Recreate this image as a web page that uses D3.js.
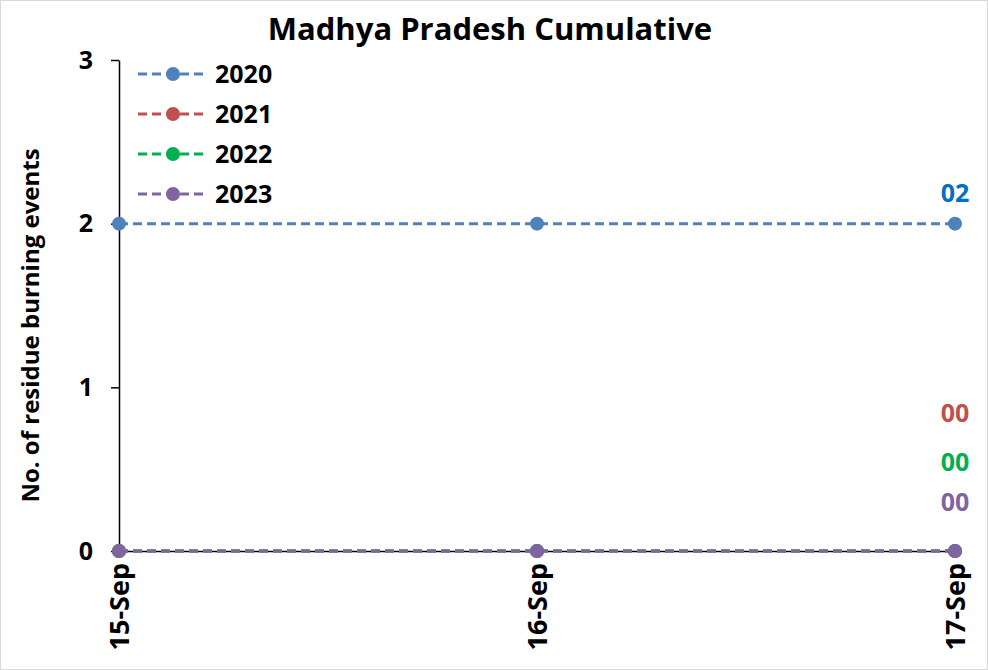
<!DOCTYPE html>
<html>
<head>
<meta charset="utf-8">
<script src="https://cdn.jsdelivr.net/npm/d3@7"></script>
<style>
  body { margin: 0; background: #fff; }
  svg { display: block; font-family: "Open Sans", sans-serif; font-weight: bold; }
</style>
</head>
<body>
<div id="chart"></div>
<script>
// Data
const dates = ["15-Sep", "16-Sep", "17-Sep"];
const years = ["2020", "2021", "2022", "2023"];
const values2020 = [2, 2, 2];
const values2021 = [0, 0, 0];
const values2022 = [0, 0, 0];
const values2023 = [0, 0, 0];
const endLabels = ["02", "00", "00", "00"];
const yTicks = [0, 1, 2, 3];

const lineColors = ["#4F81BD", "#C0504D", "#00B050", "#8064A2"];
const labelColors = ["#0070C0", "#C0504D", "#00B050", "#8064A2"];
const labelY = [193, 413, 462, 502];

const series = [values2020, values2021, values2022, values2023].map((v, i) => ({
    year: years[i], values: v, color: lineColors[i]
}));

const width = 988, height = 670;
const margin = {top: 60, right: 33, bottom: 119, left: 119};
const font = "'Open Sans', sans-serif";

const svg = d3.select("#chart").append("svg")
    .attr("width", width)
    .attr("height", height);

// chart border
svg.append("rect")
    .attr("x", 0.5).attr("y", 0.5)
    .attr("width", width - 1).attr("height", height - 1)
    .attr("fill", "#fff").attr("stroke", "#d9d9d9");

const x = d3.scalePoint()
    .domain(dates)
    .range([margin.left, width - margin.right]);

const y = d3.scaleLinear()
    .domain([0, 3])
    .range([height - margin.bottom, margin.top]);

// Y axis
const yAxis = svg.append("g")
    .attr("transform", `translate(${margin.left},0)`)
    .call(d3.axisLeft(y).tickValues(yTicks).tickFormat(d3.format("d")).tickSize(8).tickSizeOuter(0).tickPadding(18));
yAxis.select(".domain").attr("stroke", "#000").attr("stroke-width", 1.5);
yAxis.selectAll(".tick line").attr("stroke", "#000").attr("stroke-width", 1.5);
yAxis.selectAll("text").attr("font-size", 25).attr("font-family", font)
    .attr("font-weight", "bold").attr("fill", "#000");

// X axis
const xAxis = svg.append("g")
    .attr("transform", `translate(0,${y(0)})`)
    .call(d3.axisBottom(x).tickSize(0).tickPadding(10));
xAxis.select(".domain").attr("stroke", "#000").attr("stroke-width", 1.5);
xAxis.selectAll("text")
    .attr("font-size", 27).attr("font-family", font)
    .attr("font-weight", "bold").attr("fill", "#000")
    .attr("text-anchor", "end")
    .attr("dy", "0.36em")
    .attr("transform", "rotate(-90)")
    .attr("x", -12).attr("y", 0);

// Title
svg.append("text")
    .attr("x", 490).attr("y", 40)
    .attr("text-anchor", "middle")
    .attr("font-size", 31)
    .text("Madhya Pradesh Cumulative");

// Y label
svg.append("text")
    .attr("transform", `translate(39,${(y(0) + y(3)) / 2 + 20}) rotate(-90)`)
    .attr("text-anchor", "middle")
    .attr("font-size", 24)
    .text("No. of residue burning events");

// Lines
const line = d3.line()
    .x((d, i) => x(dates[i]))
    .y(d => y(d));

series.forEach(s => {
    const g = svg.append("g");
    g.append("path")
        .datum(s.values)
        .attr("d", line)
        .attr("fill", "none")
        .attr("stroke", s.color)
        .attr("stroke-width", 3)
        .attr("stroke-dasharray", "9,5");
    g.selectAll("circle")
        .data(s.values)
        .join("circle")
        .attr("cx", (d, i) => x(dates[i]))
        .attr("cy", d => y(d))
        .attr("r", 7)
        .attr("fill", s.color);
});

// End labels
svg.selectAll(".end-label")
    .data(endLabels)
    .join("text")
    .attr("class", "end-label")
    .attr("x", x(dates[dates.length - 1]))
    .attr("y", (d, i) => labelY[i])
    .attr("dy", "0.36em")
    .attr("text-anchor", "middle")
    .attr("font-size", 25)
    .attr("fill", (d, i) => labelColors[i])
    .text(d => d);

// Legend
const legend = svg.append("g").attr("transform", "translate(138,74)");
series.forEach((s, i) => {
    const row = legend.append("g").attr("transform", `translate(0,${i * 40})`);
    row.append("line")
        .attr("x1", 0).attr("x2", 70)
        .attr("stroke", s.color).attr("stroke-width", 3)
        .attr("stroke-dasharray", "9,5");
    row.append("circle").attr("cx", 35).attr("r", 7).attr("fill", s.color);
    row.append("text")
        .attr("x", 77).attr("dy", "0.36em")
        .attr("font-size", 25)
        .text(s.year);
});
</script>
</body>
</html>
